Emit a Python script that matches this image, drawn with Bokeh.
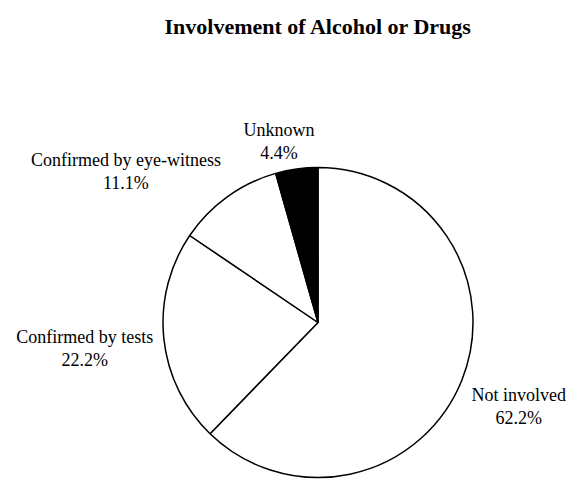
import math
from bokeh.plotting import figure
from bokeh.models import Range1d, ColumnDataSource
from bokeh.core.properties import value
from bokeh.embed import file_html
from bokeh.resources import INLINE

# ---- data ----
title_text = "Involvement of Alcohol or Drugs"
categories = ["Not involved", "Confirmed by tests", "Confirmed by eye-witness", "Unknown"]
percents = [62.2, 22.2, 11.1, 4.4]
slice_colors = ["#ffffff", "#ffffff", "#ffffff", "#000000"]

# ---- layout (page pixels) ----
W, H = 571, 480
def X(ix):
    return ix
def Y(iy):
    return H - iy

CX_IMG, CY_IMG, R = 317.5, 322.0, 155.0
GAP = 10.7
LABEL_SIZE = 18
LINE_H = 23
FONT = "Liberation Serif"

# Times-metric character widths (per 1000 em) for label box estimation
TIMES = {" ": 250, "%": 833, "-": 333, ".": 250, "C": 667, "N": 722, "U": 722,
         "b": 500, "d": 500, "e": 444, "f": 333, "i": 278, "k": 500, "l": 278,
         "m": 778, "n": 500, "o": 500, "r": 333, "s": 389, "t": 278, "v": 500,
         "w": 722, "y": 500}
def text_w(s, size):
    return sum(TIMES.get(c, 500) for c in s) * size / 1000.0

def clamp(v):
    return max(-1.0, min(1.0, v))

total = sum(percents)
starts, ends = [], []
lx, ly, ltxt = [], [], []
cum = 0.0
for cat, pct in zip(categories, percents):
    frac = pct / total
    starts.append(math.pi / 2 - 2 * math.pi * cum)
    ends.append(math.pi / 2 - 2 * math.pi * (cum + frac))
    th = 2 * math.pi * (cum + frac / 2)  # clockwise from top
    s, c = math.sin(th), math.cos(th)
    ax = CX_IMG + (R + GAP) * s
    ay = CY_IMG - (R + GAP) * c
    pct_txt = f"{pct:.1f}%"
    w = max(text_w(cat, LABEL_SIZE), text_w(pct_txt, LABEL_SIZE))
    h = 44
    bx = ax + w / 2 * clamp(3.3 * s)
    by = ay + h / 2 * clamp(-2.0 * c)
    lx += [X(bx), X(bx)]
    ly += [Y(by + 5 - LINE_H / 2), Y(by + 5 + LINE_H / 2)]
    ltxt += [cat, pct_txt]
    cum += frac

pie_src = ColumnDataSource(dict(cat=categories, start=starts, end=ends, color=slice_colors))
lab_src = ColumnDataSource(dict(x=lx, y=ly, text=ltxt))

p = figure(width=W, height=H, x_range=Range1d(0, W), y_range=Range1d(0, H),
           output_backend="svg", toolbar_location=None, min_border=0,
           x_axis_location=None, y_axis_location=None)
p.grid.visible = False
p.outline_line_color = None
p.background_fill_color = "white"
p.border_fill_color = "white"

p.wedge(x=X(CX_IMG), y=Y(CY_IMG), radius=R, start_angle="start", end_angle="end",
        direction="clock", fill_color="color", line_color="black", line_width=1.5,
        source=pie_src)

p.text(x="x", y="y", text="text", source=lab_src, text_align="center",
       text_baseline="alphabetic", text_font=value(FONT),
       text_font_size=f"{LABEL_SIZE}px", text_color="black")

p.text(x=[X(318)], y=[Y(26)], text=[title_text], text_align="center",
       text_baseline="alphabetic", text_font=value(FONT), text_font_style="bold",
       text_font_size="22px", text_color="black")

open("out.html", "w").write(file_html(p, INLINE))
